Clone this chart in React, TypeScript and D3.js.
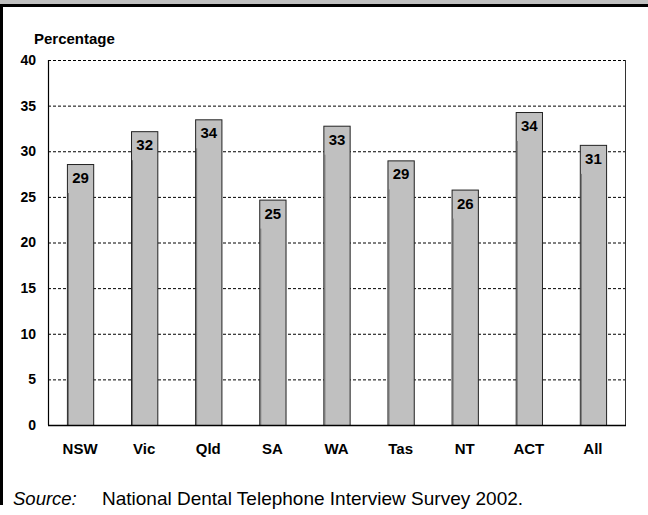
import React, { useRef, useEffect } from 'react';
import * as d3 from 'd3';

const categories = ['NSW', 'Vic', 'Qld', 'SA', 'WA', 'Tas', 'NT', 'ACT', 'All'];
const values = [28.6, 32.2, 33.5, 24.7, 32.8, 29.0, 25.8, 34.3, 30.7];
const valueLabels = ['29', '32', '34', '25', '33', '29', '26', '34', '31'];
const yTicks = [0, 5, 10, 15, 20, 25, 30, 35, 40];

const W = 648;
const H = 515;

const App: React.FC = () => {
  const svgRef = useRef<SVGSVGElement>(null);

  useEffect(() => {
    if (!svgRef.current) return;
    const svg = d3.select(svgRef.current);
    svg.selectAll('*').remove();

    const margin = { top: 60, right: 23, bottom: 90, left: 48 };
    const width = W - margin.left - margin.right;
    const height = H - margin.top - margin.bottom;
    const font = 'Arial, "Liberation Sans", sans-serif';

    svg.append('rect').attr('width', W).attr('height', H).attr('fill', '#fff');

    // frame: grey title band, black top rule and left edge
    svg.append('rect').attr('x', 0).attr('y', 0).attr('width', W).attr('height', 4).attr('fill', '#c0c0c0');
    svg.append('rect').attr('x', 0).attr('y', 4).attr('width', W).attr('height', 3).attr('fill', '#000');
    svg.append('rect').attr('x', 0).attr('y', 4).attr('width', 3).attr('height', 501).attr('fill', '#000');

    const g = svg.append('g').attr('transform', `translate(${margin.left},${margin.top})`);

    const x = d3.scaleBand().domain(categories).range([0, width]).paddingInner(0.59).paddingOuter(0.295);
    const y = d3.scaleLinear().domain([0, 40]).range([height, 0]);

    // grid
    g.selectAll('.grid')
      .data(yTicks.filter(t => t > 0))
      .join('line')
      .attr('x1', 0).attr('x2', width)
      .attr('y1', d => y(d) + 0.5).attr('y2', d => y(d) + 0.5)
      .attr('stroke', '#000')
      .attr('stroke-width', 1)
      .attr('stroke-dasharray', '3,2');

    // right border of plot
    g.append('line')
      .attr('x1', width + 0.5).attr('x2', width + 0.5)
      .attr('y1', 0).attr('y2', height)
      .attr('stroke', '#333').attr('stroke-width', 1);

    // bars
    g.selectAll('.bar')
      .data(categories)
      .join('rect')
      .attr('x', d => (x(d) as number) + 0.5)
      .attr('y', (d, i) => y(values[i]) + 0.5)
      .attr('width', x.bandwidth())
      .attr('height', (d, i) => height - y(values[i]))
      .attr('fill', '#c0c0c0')
      .attr('stroke', '#222')
      .attr('stroke-width', 1);

    // darker shading line on bar left side
    g.selectAll('.shade')
      .data(categories)
      .join('line')
      .attr('x1', d => (x(d) as number) + 1.5)
      .attr('x2', d => (x(d) as number) + 1.5)
      .attr('y1', (d, i) => y(values[i]) + 29)
      .attr('y2', height)
      .attr('stroke', '#707070')
      .attr('stroke-width', 1);

    // value labels
    g.selectAll('.lbl')
      .data(categories)
      .join('text')
      .attr('x', d => (x(d) as number) + x.bandwidth() / 2 + 0.5)
      .attr('y', (d, i) => y(values[i]) + 19)
      .attr('text-anchor', 'middle')
      .style('font-family', font)
      .style('font-weight', 'bold')
      .style('font-size', '15px')
      .attr('fill', '#000')
      .text((d, i) => valueLabels[i]);

    // axes
    g.append('line')
      .attr('x1', 0.5).attr('x2', 0.5).attr('y1', 0).attr('y2', height)
      .attr('stroke', '#000').attr('stroke-width', 1.2);
    g.append('line')
      .attr('x1', 0).attr('x2', width + 1).attr('y1', height + 0.5).attr('y2', height + 0.5)
      .attr('stroke', '#000').attr('stroke-width', 1.5);

    const yAxis = g.append('g')
      .call(d3.axisLeft(y).tickValues(yTicks).tickSize(0).tickPadding(12));
    yAxis.select('.domain').remove();
    yAxis.selectAll('text')
      .style('font-family', font)
      .style('font-weight', 'bold')
      .style('font-size', '14px')
      .attr('fill', '#000');

    const xAxis = g.append('g')
      .attr('transform', `translate(0,${height})`)
      .call(d3.axisBottom(x).tickSize(0).tickPadding(18));
    xAxis.select('.domain').remove();
    xAxis.selectAll('text')
      .style('font-family', font)
      .style('font-weight', 'bold')
      .style('font-size', '15px')
      .attr('fill', '#000');

    // axis title
    svg.append('text')
      .attr('x', 34).attr('y', 44)
      .style('font-family', font)
      .style('font-weight', 'bold')
      .style('font-size', '15px')
      .text('Percentage');

    // source note
    svg.append('text')
      .attr('x', 13).attr('y', 505)
      .style('font-family', font)
      .style('font-style', 'italic')
      .style('font-size', '18.5px')
      .text('Source:');
    svg.append('text')
      .attr('x', 102).attr('y', 505)
      .style('font-family', font)
      .style('font-size', '19px')
      .text('National Dental Telephone Interview Survey 2002.');
  }, []);

  return (
    <svg
      ref={svgRef}
      width={W}
      height={H}
      style={{ position: 'absolute', left: 0, top: 0, display: 'block' }}
    ></svg>
  );
};

export default App;
